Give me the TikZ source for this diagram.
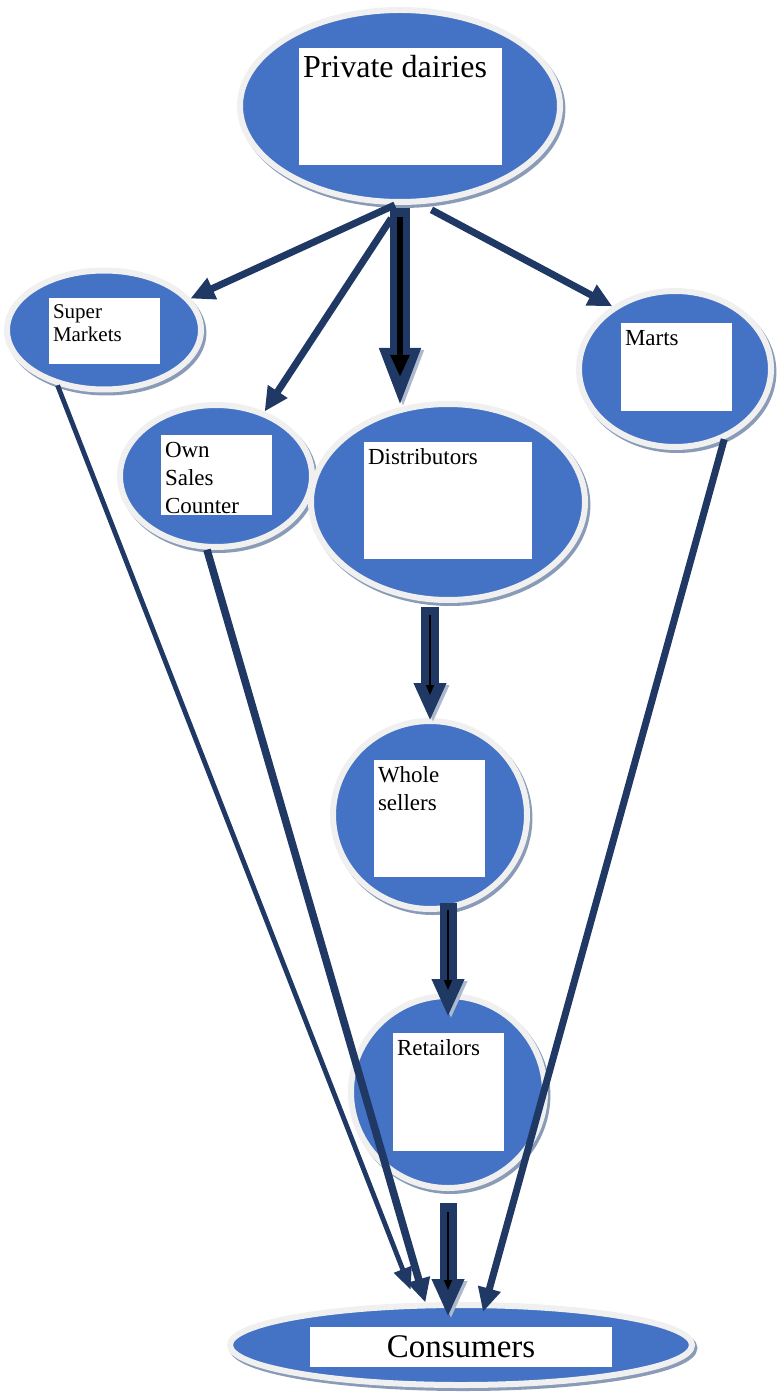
\documentclass[tikz,border=0pt]{standalone}
\usepackage{fontspec}
\setmainfont{Liberation Serif}
\usetikzlibrary{arrows.meta,shapes.geometric,shadows}

\definecolor{stageblue}{HTML}{4472C4}
\definecolor{rimgray}{HTML}{F0F0F0}
\definecolor{rimshade}{HTML}{8A9BB8}
\definecolor{arrownavy}{HTML}{1F3864}

\newcommand{\boxlabel}[3]{\parbox[c][#2][t]{#1}{\raggedright #3}}

\begin{document}
\begin{tikzpicture}[x=0.5pt,y=-0.5pt]
 \tikzset{
  stage node/.style={ellipse,fill=stageblue,draw=rimgray,line width=3pt,inner sep=0,
    drop shadow={shadow xshift=1.2pt,shadow yshift=-1.5pt,fill=rimshade,draw=rimshade,line width=3pt,opacity=1}},
  tag node/.style={rectangle,fill=white,inner xsep=2pt,inner ysep=3.5pt,font=\fontsize{11.5}{14}\selectfont},
  feed/.style={draw=arrownavy,line width=3.5pt,-{Triangle[width=11pt,length=12pt]}},
  bulk/.style={draw=arrownavy,line width=8.5pt,-{Triangle[width=15pt,length=19pt]},
    preaction={draw=rimshade!70,transform canvas={xshift=1.5pt,yshift=-1pt}}},
  core/.style={draw=black,line width=0.75pt,-{Triangle[width=4pt,length=5pt]}}
 }
 \useasboundingbox (0,0) rectangle (776,1395);

 % stages
 \node[stage node,minimum width=160pt,minimum height=96pt] (pd) at (400,106) {};
 \node[stage node,minimum width=97pt,minimum height=59.5pt] (sm) at (104,330) {};
 \node[stage node,minimum width=96pt,minimum height=71pt] (osc) at (216,476) {};
 \node[stage node,minimum width=137pt,minimum height=98pt] (dist) at (448,502) {};
 \node[stage node,minimum width=96pt,minimum height=78pt] (marts) at (675,369) {};
 \node[stage node,minimum width=97pt,minimum height=94pt] (ws) at (430,815) {};
 \node[stage node,minimum width=97pt,minimum height=96pt] (ret) at (448,1092) {};
 \node[stage node,minimum width=231pt,minimum height=40pt] (cons) at (461,1345) {};

 % white labels
 \node[tag node,font=\fontsize{16}{19}\selectfont] (pdt) at (400.5,106.5) {\boxlabel{97.5pt}{51.5pt}{Private dairies}};
 \node[tag node,font=\fontsize{10.5}{11.5}\selectfont] (smt) at (104.5,331) {\boxlabel{51.5pt}{26pt}{Super\\Markets}};
 \node[tag node] (osct) at (216.5,475) {\boxlabel{51.5pt}{33pt}{Own\\Sales\\Counter}};
 \node[tag node] (distt) at (448,500.5) {\boxlabel{80pt}{51.5pt}{Distributors}};
 \node[tag node] (martst) at (676.5,367) {\boxlabel{51.5pt}{37pt}{Marts}};
 \node[tag node] (wst) at (429.5,818.5) {\boxlabel{51.5pt}{51.5pt}{Whole\\sellers}};
 \node[tag node] (rett) at (448.5,1092) {\boxlabel{51.5pt}{52pt}{Retailors}};
 \node[fill=white,inner sep=0,minimum width=151pt,minimum height=20pt,
   font=\fontsize{16.5}{19}\selectfont] (const) at (461,1347) {Consumers};

 % from the dairies
 \draw[feed] (pd.-93) -- (sm.20);
 \draw[feed,shorten <=8pt] (pd.south) -- (osc.53);
 \draw[feed,shorten <=6pt] (pd.-78) -- (marts.135);
 \draw[bulk,line width=10pt,-{Triangle[width=18.5pt,length=30pt]},shorten <=1.5pt,shorten >=-3.5pt]
   (pd.south) -- (pd.south |- dist.north);
 \draw[core,line width=3pt,-{Triangle[width=9pt,length=11pt]},shorten <=6pt,shorten >=12pt]
   (pd.south) -- (pd.south |- dist.north);

 % down the chain
 \draw[bulk,line width=9pt,shorten <=2pt,shorten >=-1.5pt] (ws.north |- dist.south) -- (ws.north);
 \draw[core,shorten <=6pt,shorten >=11.5pt] (ws.north |- dist.south) -- (ws.north);
 \draw[bulk,shorten <=-4.5pt,shorten >=-12pt] (ret.north |- ws.south) -- (ret.north);
 \draw[core,shorten <=-1pt,shorten >=1.5pt] (ret.north |- ws.south) -- (ret.north);
 \draw[bulk,shorten <=6pt,shorten >=-7.5pt] (ret.south) -- (ret.south |- cons.north);
 \draw[core,shorten <=10.5pt,shorten >=6pt] (ret.south) -- (ret.south |- cons.north);

 % straight to the consumers
 \draw[feed,line width=2.4pt,-{Triangle[width=9pt,length=11pt]},shorten >=7pt] (sm.-130) -- (cons.137);
 \draw[feed,line width=3.8pt] (osc.-97) -- (cons.130);
 \draw[feed,shorten >=-5pt] (marts.-55) -- (cons.60);
\end{tikzpicture}
\end{document}
